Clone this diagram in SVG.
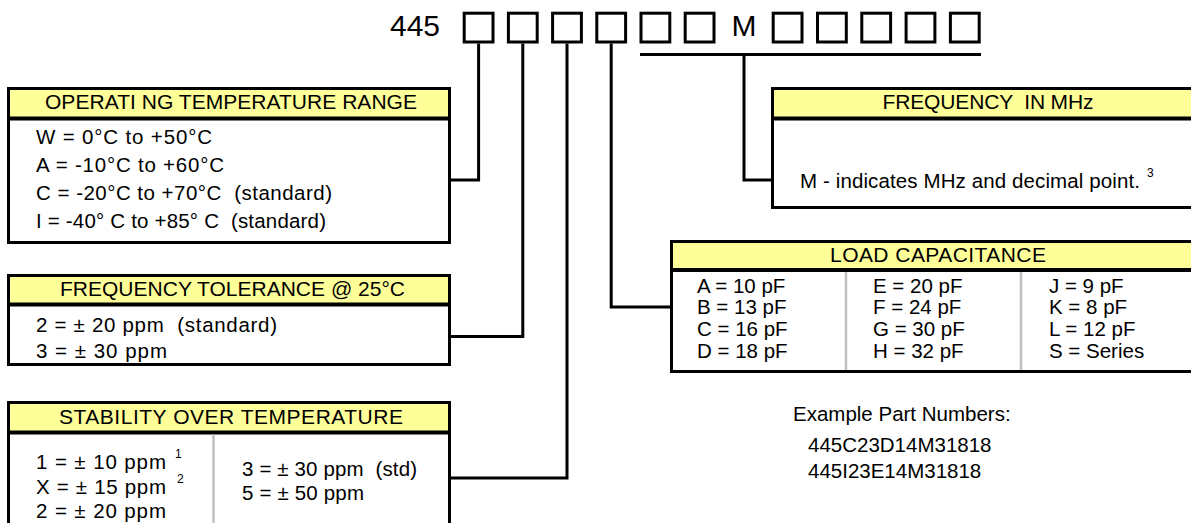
<svg xmlns="http://www.w3.org/2000/svg" width="1191" height="523" viewBox="0 0 1191 523">
<style>
text{font-family:"Liberation Sans",Arial,Helvetica,sans-serif;fill:#000}
.t{font-size:20.5px}
.h{font-size:21px;text-anchor:middle}
.big{font-size:30px}
.sup{font-size:12px}
.box{fill:#fff;stroke:#000;stroke-width:3}
.hd{fill:#ffff99}
.sep{stroke:#000;stroke-width:4}
.div{stroke:#c0c0c0;stroke-width:2.5}
.sq{fill:none;stroke:#000;stroke-width:3}
.ln{fill:none;stroke:#000;stroke-width:3}
</style>
<g id="partcode">
<text class="big" x="390" y="36">445</text>
<rect class="sq" x="464.2" y="13.2" width="28.8" height="28.8"/>
<rect class="sq" x="508.4" y="13.2" width="28.8" height="28.8"/>
<rect class="sq" x="552.6" y="13.2" width="28.8" height="28.8"/>
<rect class="sq" x="596.8" y="13.2" width="28.8" height="28.8"/>
<rect class="sq" x="641" y="13.2" width="28.8" height="28.8"/>
<rect class="sq" x="685.2" y="13.2" width="28.8" height="28.8"/>
<text class="big" x="744" y="36" text-anchor="middle">M</text>
<rect class="sq" x="773.2" y="13.2" width="28.8" height="28.8"/>
<rect class="sq" x="817.5" y="13.2" width="28.8" height="28.8"/>
<rect class="sq" x="861.8" y="13.2" width="28.8" height="28.8"/>
<rect class="sq" x="906.1" y="13.2" width="28.8" height="28.8"/>
<rect class="sq" x="950.4" y="13.2" width="28.8" height="28.8"/>
</g>
<g id="connectors">
<polyline class="ln" points="478.6,43.5 478.6,180 450,180"/>
<polyline class="ln" points="522.8,43.5 522.8,336.5 450,336.5"/>
<polyline class="ln" points="567,43.5 567,478 450,478"/>
<polyline class="ln" points="611.2,43.5 611.2,307 672,307"/>
<line class="ln" x1="640" y1="54.5" x2="981" y2="54.5"/>
<polyline class="ln" points="744,54.5 744,180 772,180"/>
</g>
<g id="operating-temperature-range">
<rect class="box" x="8.5" y="88.5" width="441" height="154"/>
<rect class="hd" x="10" y="90" width="438" height="27"/>
<line class="sep" x1="8.5" y1="118.5" x2="449.5" y2="118.5"/>
<text class="h" x="231" y="108.5" textLength="372" lengthAdjust="spacing">OPERATI NG TEMPERATURE RANGE</text>
<text class="t" x="36" y="144" textLength="176" lengthAdjust="spacing">W = 0°C to +50°C</text>
<text class="t" x="36" y="172" textLength="188" lengthAdjust="spacing">A = -10°C to +60°C</text>
<text class="t" x="36" y="200" xml:space="preserve" textLength="296" lengthAdjust="spacing">C = -20°C to +70°C  (standard)</text>
<text class="t" x="36" y="228" xml:space="preserve" textLength="290" lengthAdjust="spacing">I = -40° C to +85° C  (standard)</text>
</g>
<g id="frequency-tolerance">
<rect class="box" x="8.5" y="275.5" width="441" height="89"/>
<rect class="hd" x="10" y="277" width="438" height="26"/>
<line class="sep" x1="8.5" y1="304.5" x2="449.5" y2="304.5"/>
<text class="h" x="232.5" y="295.5" textLength="345" lengthAdjust="spacing">FREQUENCY TOLERANCE @ 25°C</text>
<text class="t" x="36" y="331.5" xml:space="preserve" textLength="241" lengthAdjust="spacing">2 = ± 20 ppm  (standard)</text>
<text class="t" x="36" y="358" textLength="131" lengthAdjust="spacing">3 = ± 30 ppm</text>
</g>
<g id="stability-over-temperature">
<rect class="box" x="8.5" y="402.5" width="441" height="125"/>
<rect class="hd" x="10" y="404" width="438" height="27"/>
<line class="sep" x1="8.5" y1="432.5" x2="449.5" y2="432.5"/>
<line class="div" x1="213.5" y1="434.5" x2="213.5" y2="523"/>
<text class="h" x="231" y="424" textLength="344" lengthAdjust="spacing">STABILITY OVER TEMPERATURE</text>
<text class="t" x="36" y="469" textLength="130" lengthAdjust="spacing">1 = ± 10 ppm</text>
<text class="sup" x="175" y="458">1</text>
<text class="t" x="36" y="494" textLength="130" lengthAdjust="spacing">X = ± 15 ppm</text>
<text class="sup" x="177" y="483">2</text>
<text class="t" x="36" y="518" textLength="130" lengthAdjust="spacing">2 = ± 20 ppm</text>
<text class="t" x="242" y="476" xml:space="preserve" textLength="175" lengthAdjust="spacing">3 = ± 30 ppm  (std)</text>
<text class="t" x="242" y="500" textLength="122" lengthAdjust="spacing">5 = ± 50 ppm</text>
</g>
<g id="frequency-in-mhz">
<rect class="box" x="772.5" y="88.5" width="425" height="119"/>
<rect class="hd" x="774" y="90" width="420" height="27"/>
<line class="sep" x1="772.5" y1="118.5" x2="1195" y2="118.5"/>
<text class="h" x="988" y="109" textLength="211" lengthAdjust="spacing" xml:space="preserve">FREQUENCY  IN MHz</text>
<text class="t" x="800" y="188" textLength="340" lengthAdjust="spacing">M - indicates MHz and decimal point.</text>
<text class="sup" x="1147" y="177">3</text>
</g>
<g id="load-capacitance">
<rect class="box" x="671.5" y="241.5" width="525" height="130"/>
<rect class="hd" x="673" y="243" width="520" height="25"/>
<line class="sep" x1="671.5" y1="270" x2="1195" y2="270"/>
<line class="div" x1="846" y1="272" x2="846" y2="370"/>
<line class="div" x1="1021" y1="272" x2="1021" y2="370"/>
<text class="h" x="938" y="262" textLength="216" lengthAdjust="spacing">LOAD CAPACITANCE</text>
<text class="t" x="697" y="293">A = 10 pF</text>
<text class="t" x="697" y="314">B = 13 pF</text>
<text class="t" x="697" y="336">C = 16 pF</text>
<text class="t" x="697" y="358">D = 18 pF</text>
<text class="t" x="873" y="293">E = 20 pF</text>
<text class="t" x="873" y="314">F = 24 pF</text>
<text class="t" x="873" y="336">G = 30 pF</text>
<text class="t" x="873" y="358">H = 32 pF</text>
<text class="t" x="1049" y="293">J = 9 pF</text>
<text class="t" x="1049" y="314">K = 8 pF</text>
<text class="t" x="1049" y="336">L = 12 pF</text>
<text class="t" x="1049" y="358">S = Series</text>
</g>
<g id="example-part-numbers">
<text class="t" x="793" y="421">Example Part Numbers:</text>
<text class="t" x="808" y="452">445C23D14M31818</text>
<text class="t" x="808" y="478">445I23E14M31818</text>
</g>
</svg>
